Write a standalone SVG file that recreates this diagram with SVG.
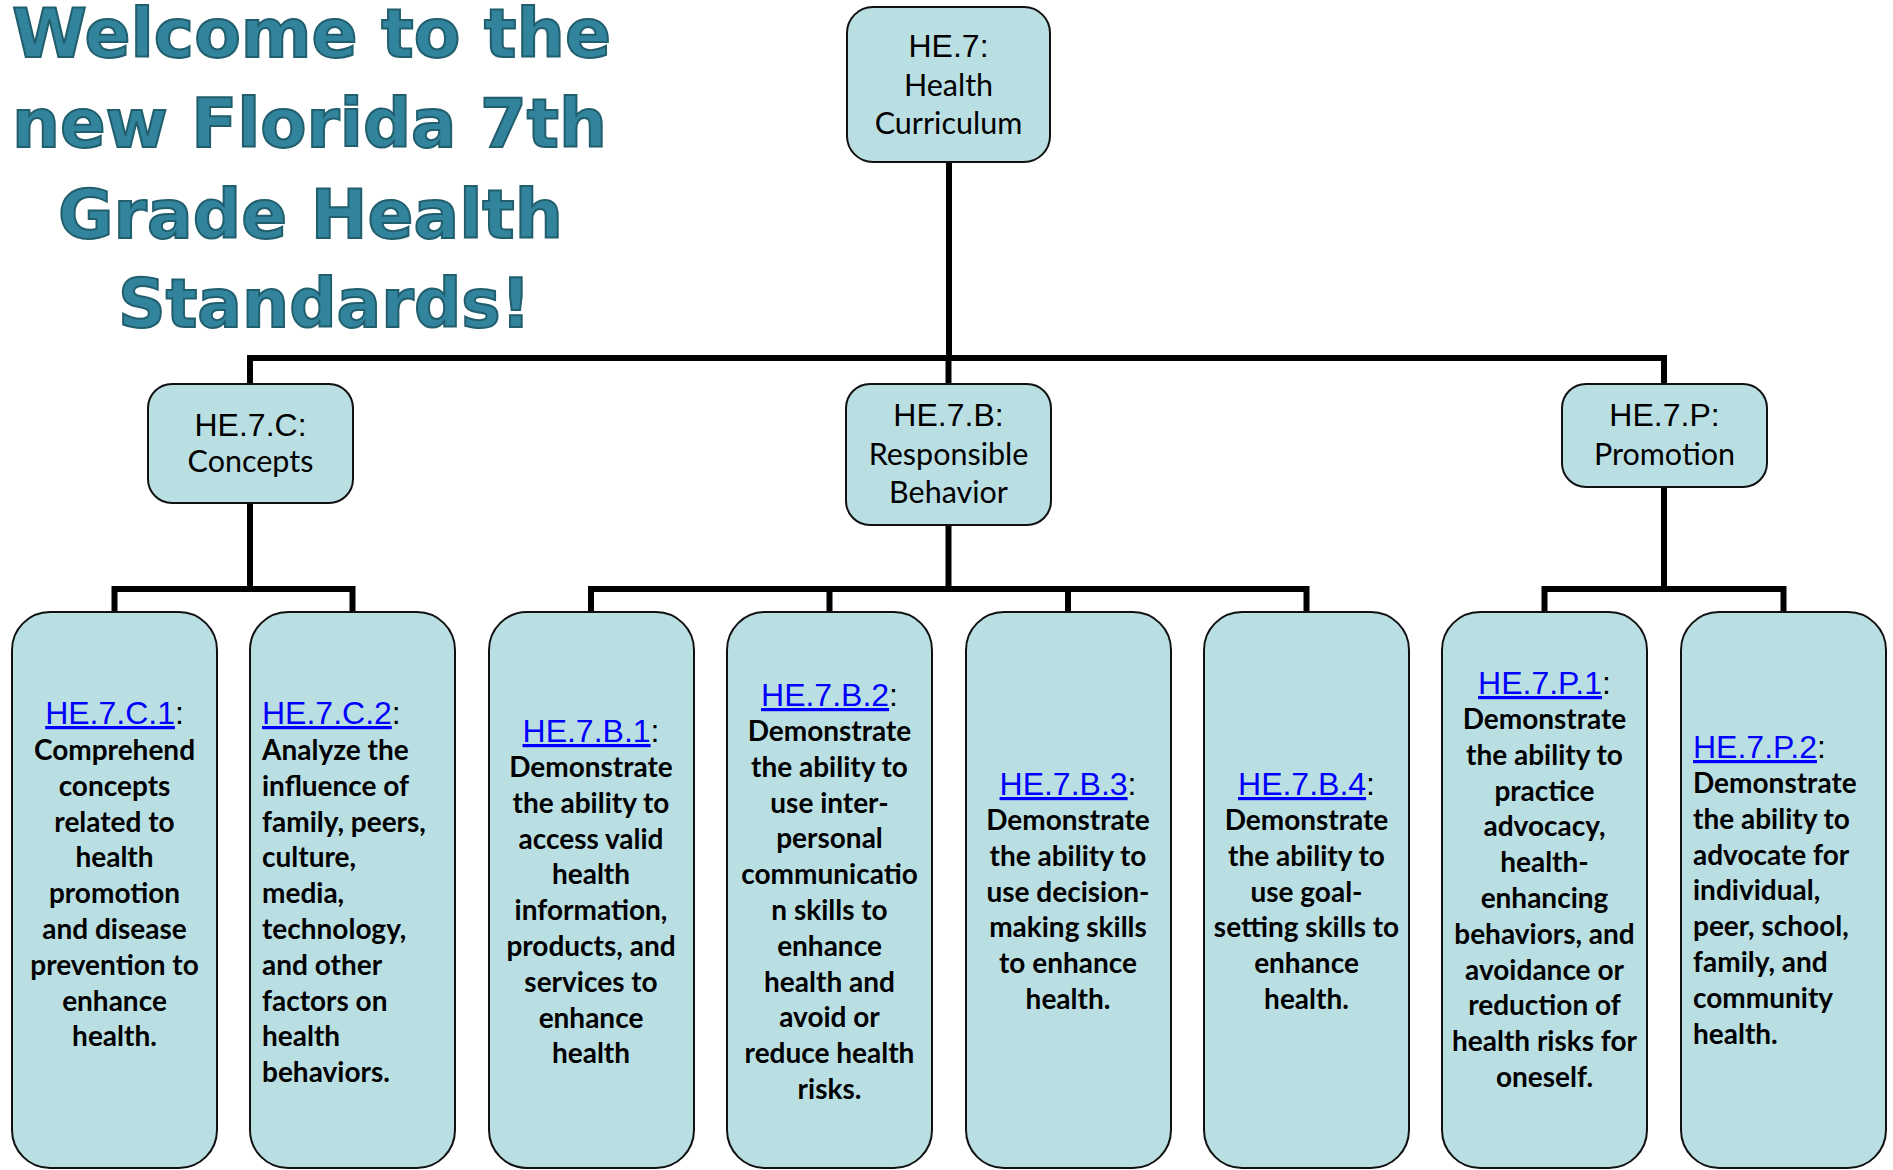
<svg xmlns="http://www.w3.org/2000/svg" width="1893" height="1170" viewBox="0 0 1893 1170">
<style>
.bg{fill:#ffffff}
.node{fill:#BADFE3;stroke:#111;stroke-width:2}
.conn{stroke:#000;stroke-width:6;fill:none}
.title{font-family:"DejaVu Sans","Liberation Sans",sans-serif;font-weight:bold;font-size:67px;fill:#31849B;stroke:#215E6E;stroke-width:2}
.hd{font-family:"Liberation Sans",Arial,sans-serif;font-size:32px;fill:#000}
.sub{font-family:Lato,"Open Sans",sans-serif;font-size:30.5px;fill:#000}
.lk{font-family:"Liberation Sans",Arial,sans-serif;font-size:32px;fill:#000}
.lk tspan.u{fill:#0000FF;text-decoration:underline}
.body{font-family:Lato,"Open Sans",sans-serif;font-weight:bold;font-size:28px;fill:#000}
.mid{text-anchor:middle}
</style>
<rect class="bg" x="0" y="0" width="1893" height="1170"/>
<g id="title">
<text class="title" x="12" y="57" textLength="599" lengthAdjust="spacingAndGlyphs">Welcome to the</text>
<text class="title" x="12" y="147" textLength="595" lengthAdjust="spacingAndGlyphs">new Florida 7th</text>
<text class="title" x="58" y="238" textLength="505" lengthAdjust="spacingAndGlyphs">Grade Health</text>
<text class="title" x="118" y="327" textLength="413" lengthAdjust="spacingAndGlyphs">Standards!</text>
</g>
<g id="connectors">
<path class="conn" d="M949 162 V358 M250 358 H1664 M250 355 V384 M948.5 355 V384 M1664 355 V384"/>
<path class="conn" d="M250 503 V589 M114.5 589 H352.5 M114.5 586 V612 M352.5 586 V612"/>
<path class="conn" d="M948.5 525 V589 M591 589 H1306.5 M591 586 V612 M829.5 586 V612 M1068 586 V612 M1306.5 586 V612"/>
<path class="conn" d="M1664 487 V589 M1544.5 589 H1783.5 M1544.5 586 V612 M1783.5 586 V612"/>
</g>
<g id="he7">
<rect class="node" x="847" y="7" width="203" height="155" rx="26"/>
<text class="hd mid" x="948.5" y="57">HE.7:</text>
<text class="sub mid" x="948.5" y="96">Health</text>
<text class="sub mid" x="948.5" y="134">Curriculum</text>
</g>
<g id="he7c">
<rect class="node" x="148" y="384" width="205" height="119" rx="24"/>
<text class="hd mid" x="250.5" y="436">HE.7.C:</text>
<text class="sub mid" x="250.5" y="472">Concepts</text>
</g>
<g id="he7b">
<rect class="node" x="846" y="384" width="205" height="141" rx="24"/>
<text class="hd mid" x="948.5" y="426">HE.7.B:</text>
<text class="sub mid" x="948.5" y="465">Responsible</text>
<text class="sub mid" x="948.5" y="503">Behavior</text>
</g>
<g id="he7p">
<rect class="node" x="1562" y="384" width="205" height="103" rx="24"/>
<text class="hd mid" x="1664.5" y="426">HE.7.P:</text>
<text class="sub mid" x="1664.5" y="465">Promotion</text>
</g>
<g id="he7c1">
<rect class="node" x="12" y="612" width="205" height="556" rx="38"/>
<text class="lk mid" x="114.5" y="724"><tspan class="u">HE.7.C.1</tspan>:</text>
<text class="body mid" y="760"><tspan x="114.5" dy="0">Comprehend</tspan><tspan x="114.5" dy="35.8">concepts</tspan><tspan x="114.5" dy="35.8">related to</tspan><tspan x="114.5" dy="35.8">health</tspan><tspan x="114.5" dy="35.8">promotion</tspan><tspan x="114.5" dy="35.8">and disease</tspan><tspan x="114.5" dy="35.8">prevention to</tspan><tspan x="114.5" dy="35.8">enhance</tspan><tspan x="114.5" dy="35.8">health.</tspan></text>
</g>
<g id="he7c2">
<rect class="node" x="250" y="612" width="205" height="556" rx="38"/>
<text class="lk" x="262" y="724"><tspan class="u">HE.7.C.2</tspan>:</text>
<text class="body" y="760"><tspan x="262" dy="0">Analyze the</tspan><tspan x="262" dy="35.8">influence of</tspan><tspan x="262" dy="35.8">family, peers,</tspan><tspan x="262" dy="35.8">culture,</tspan><tspan x="262" dy="35.8">media,</tspan><tspan x="262" dy="35.8">technology,</tspan><tspan x="262" dy="35.8">and other</tspan><tspan x="262" dy="35.8">factors on</tspan><tspan x="262" dy="35.8">health</tspan><tspan x="262" dy="35.8">behaviors.</tspan></text>
</g>
<g id="he7b1">
<rect class="node" x="489" y="612" width="205" height="556" rx="38"/>
<text class="lk mid" x="591" y="742"><tspan class="u">HE.7.B.1</tspan>:</text>
<text class="body mid" y="777"><tspan x="591" dy="0">Demonstrate</tspan><tspan x="591" dy="35.8">the ability to</tspan><tspan x="591" dy="35.8">access valid</tspan><tspan x="591" dy="35.8">health</tspan><tspan x="591" dy="35.8">information,</tspan><tspan x="591" dy="35.8">products, and</tspan><tspan x="591" dy="35.8">services to</tspan><tspan x="591" dy="35.8">enhance</tspan><tspan x="591" dy="35.8">health</tspan></text>
</g>
<g id="he7b2">
<rect class="node" x="727" y="612" width="205" height="556" rx="38"/>
<text class="lk mid" x="829.5" y="706"><tspan class="u">HE.7.B.2</tspan>:</text>
<text class="body mid" y="741"><tspan x="829.5" dy="0">Demonstrate</tspan><tspan x="829.5" dy="35.8">the ability to</tspan><tspan x="829.5" dy="35.8">use inter-</tspan><tspan x="829.5" dy="35.8">personal</tspan><tspan x="829.5" dy="35.8">communicatio</tspan><tspan x="829.5" dy="35.8">n skills to</tspan><tspan x="829.5" dy="35.8">enhance</tspan><tspan x="829.5" dy="35.8">health and</tspan><tspan x="829.5" dy="35.8">avoid or</tspan><tspan x="829.5" dy="35.8">reduce health</tspan><tspan x="829.5" dy="35.8">risks.</tspan></text>
</g>
<g id="he7b3">
<rect class="node" x="966" y="612" width="205" height="556" rx="38"/>
<text class="lk mid" x="1068" y="795"><tspan class="u">HE.7.B.3</tspan>:</text>
<text class="body mid" y="830"><tspan x="1068" dy="0">Demonstrate</tspan><tspan x="1068" dy="35.8">the ability to</tspan><tspan x="1068" dy="35.8">use decision-</tspan><tspan x="1068" dy="35.8">making skills</tspan><tspan x="1068" dy="35.8">to enhance</tspan><tspan x="1068" dy="35.8">health.</tspan></text>
</g>
<g id="he7b4">
<rect class="node" x="1204" y="612" width="205" height="556" rx="38"/>
<text class="lk mid" x="1306.5" y="795"><tspan class="u">HE.7.B.4</tspan>:</text>
<text class="body mid" y="830"><tspan x="1306.5" dy="0">Demonstrate</tspan><tspan x="1306.5" dy="35.8">the ability to</tspan><tspan x="1306.5" dy="35.8">use goal-</tspan><tspan x="1306.5" dy="35.8">setting skills to</tspan><tspan x="1306.5" dy="35.8">enhance</tspan><tspan x="1306.5" dy="35.8">health.</tspan></text>
</g>
<g id="he7p1">
<rect class="node" x="1442" y="612" width="205" height="556" rx="38"/>
<text class="lk mid" x="1544.5" y="694"><tspan class="u">HE.7.P.1</tspan>:</text>
<text class="body mid" y="729"><tspan x="1544.5" dy="0">Demonstrate</tspan><tspan x="1544.5" dy="35.8">the ability to</tspan><tspan x="1544.5" dy="35.8">practice</tspan><tspan x="1544.5" dy="35.8">advocacy,</tspan><tspan x="1544.5" dy="35.8">health-</tspan><tspan x="1544.5" dy="35.8">enhancing</tspan><tspan x="1544.5" dy="35.8">behaviors, and</tspan><tspan x="1544.5" dy="35.8">avoidance or</tspan><tspan x="1544.5" dy="35.8">reduction of</tspan><tspan x="1544.5" dy="35.8">health risks for</tspan><tspan x="1544.5" dy="35.8">oneself.</tspan></text>
</g>
<g id="he7p2">
<rect class="node" x="1681" y="612" width="205" height="556" rx="38"/>
<text class="lk" x="1693" y="758"><tspan class="u">HE.7.P.2</tspan>:</text>
<text class="body" y="793"><tspan x="1693" dy="0">Demonstrate</tspan><tspan x="1693" dy="35.8">the ability to</tspan><tspan x="1693" dy="35.8">advocate for</tspan><tspan x="1693" dy="35.8">individual,</tspan><tspan x="1693" dy="35.8">peer, school,</tspan><tspan x="1693" dy="35.8">family, and</tspan><tspan x="1693" dy="35.8">community</tspan><tspan x="1693" dy="35.8">health.</tspan></text>
</g>
</svg>
